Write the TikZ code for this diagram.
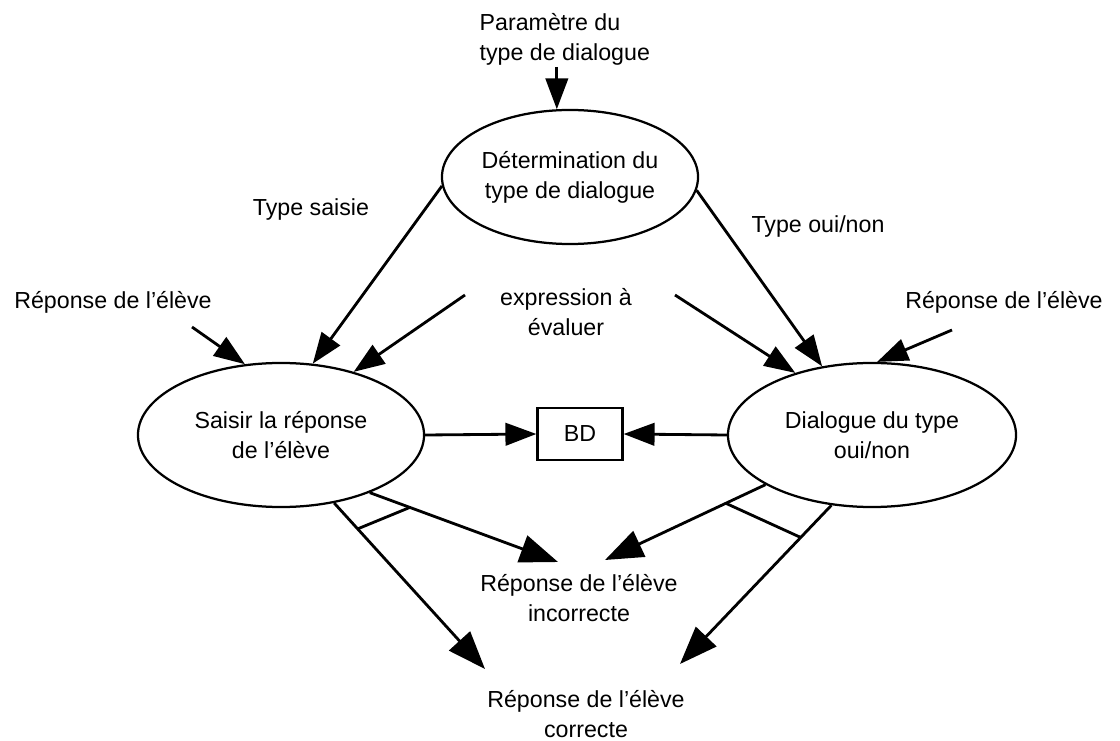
\documentclass[tikz,border=0pt]{standalone}
\usepackage{fontspec}
\setmainfont{Liberation Sans}
\usetikzlibrary{positioning, shapes.geometric, arrows.meta, calc}

\begin{document}
\begin{tikzpicture}[x=0.025cm, y=-0.025cm, font=\fontsize{16.5}{21.5}\selectfont,
    proc/.style={ellipse, draw, line width=1.6pt, inner sep=0pt, align=center},
    lbl/.style={align=center, inner sep=1pt},
    flow/.style={line width=2pt, -{Triangle[length=22pt, width=16pt]}},
    outflow/.style={line width=2pt, -{Triangle[length=27pt, width=20pt]}}]
  \useasboundingbox (0,0) rectangle (1120,741);
  % processus
  \node[proc, minimum width=6.4cm, minimum height=3.35cm] (determ) at (570,177) {Détermination du\\type de dialogue};
  \node[proc, minimum width=7.15cm, minimum height=3.6cm] (saisir) at (281,435) {Saisir la réponse\\de l'élève};
  \node[proc, minimum width=7.2cm, minimum height=3.6cm] (dialog) at (872,435) {Dialogue du type\\oui/non};
  \node[draw, line width=1.6pt, minimum width=2.125cm, minimum height=1.3cm] (bd) at (580,434) {BD};
  % textes
  \node[lbl, align=left, anchor=west] (param) at (478,39) {Paramètre du\\type de dialogue};
  \node[lbl] (typeS) at (311,210) {Type saisie};
  \node[lbl] (typeO) at (818,227) {Type oui/non};
  \node[lbl] (expr) at (566,312) {expression à\\évaluer};
  \node[lbl] (repL) at (113,302) {Réponse de l'élève};
  \node[lbl] (repR) at (1004,302) {Réponse de l'élève};
  \node[lbl] (incor) at (579,598) {Réponse de l'élève\\incorrecte};
  \node[lbl] (corr) at (586,714) {Réponse de l'élève\\correcte};
  % extremites libres
  \coordinate (inL) at (192,327);
  \coordinate (inR) at (952,330);
  \coordinate (exL) at (465,295);
  \coordinate (exR) at (675,295);
  \coordinate (incL) at (558,562);
  \coordinate (corL) at (485,669);
  \coordinate (incR) at (605,560);
  \coordinate (corR) at (680,664);
  % fleches
  \draw[flow] (param.south -| determ.101) -- (determ.101);
  \draw[flow] (determ.184) -- (saisir.66);
  \draw[flow] (determ.-6) -- (dialog.126);
  \draw[flow] (inL) -- (saisir.117);
  \draw[flow] (exL) -- (saisir.41);
  \draw[flow] (exR) -- (dialog.141);
  \draw[flow] (inR) -- (dialog.86);
  \draw[flow] (saisir.east) -- (bd.west);
  \draw[flow] (dialog.west) -- (bd.east);
  \draw[outflow] (saisir.-33) -- (incL);
  \draw[outflow] (saisir.-52) -- (corL);
  \draw[outflow] (dialog.205) -- (incR);
  \draw[outflow] (dialog.240) -- (corR);
  \draw[line width=2pt] ($(saisir.-52)!0.156!(corL)$) -- ($(saisir.-33)!0.213!(incL)$);
  \draw[line width=2pt] ($(dialog.205)!0.247!(incR)$) -- ($(dialog.240)!0.203!(corR)$);
\end{tikzpicture}
\end{document}
